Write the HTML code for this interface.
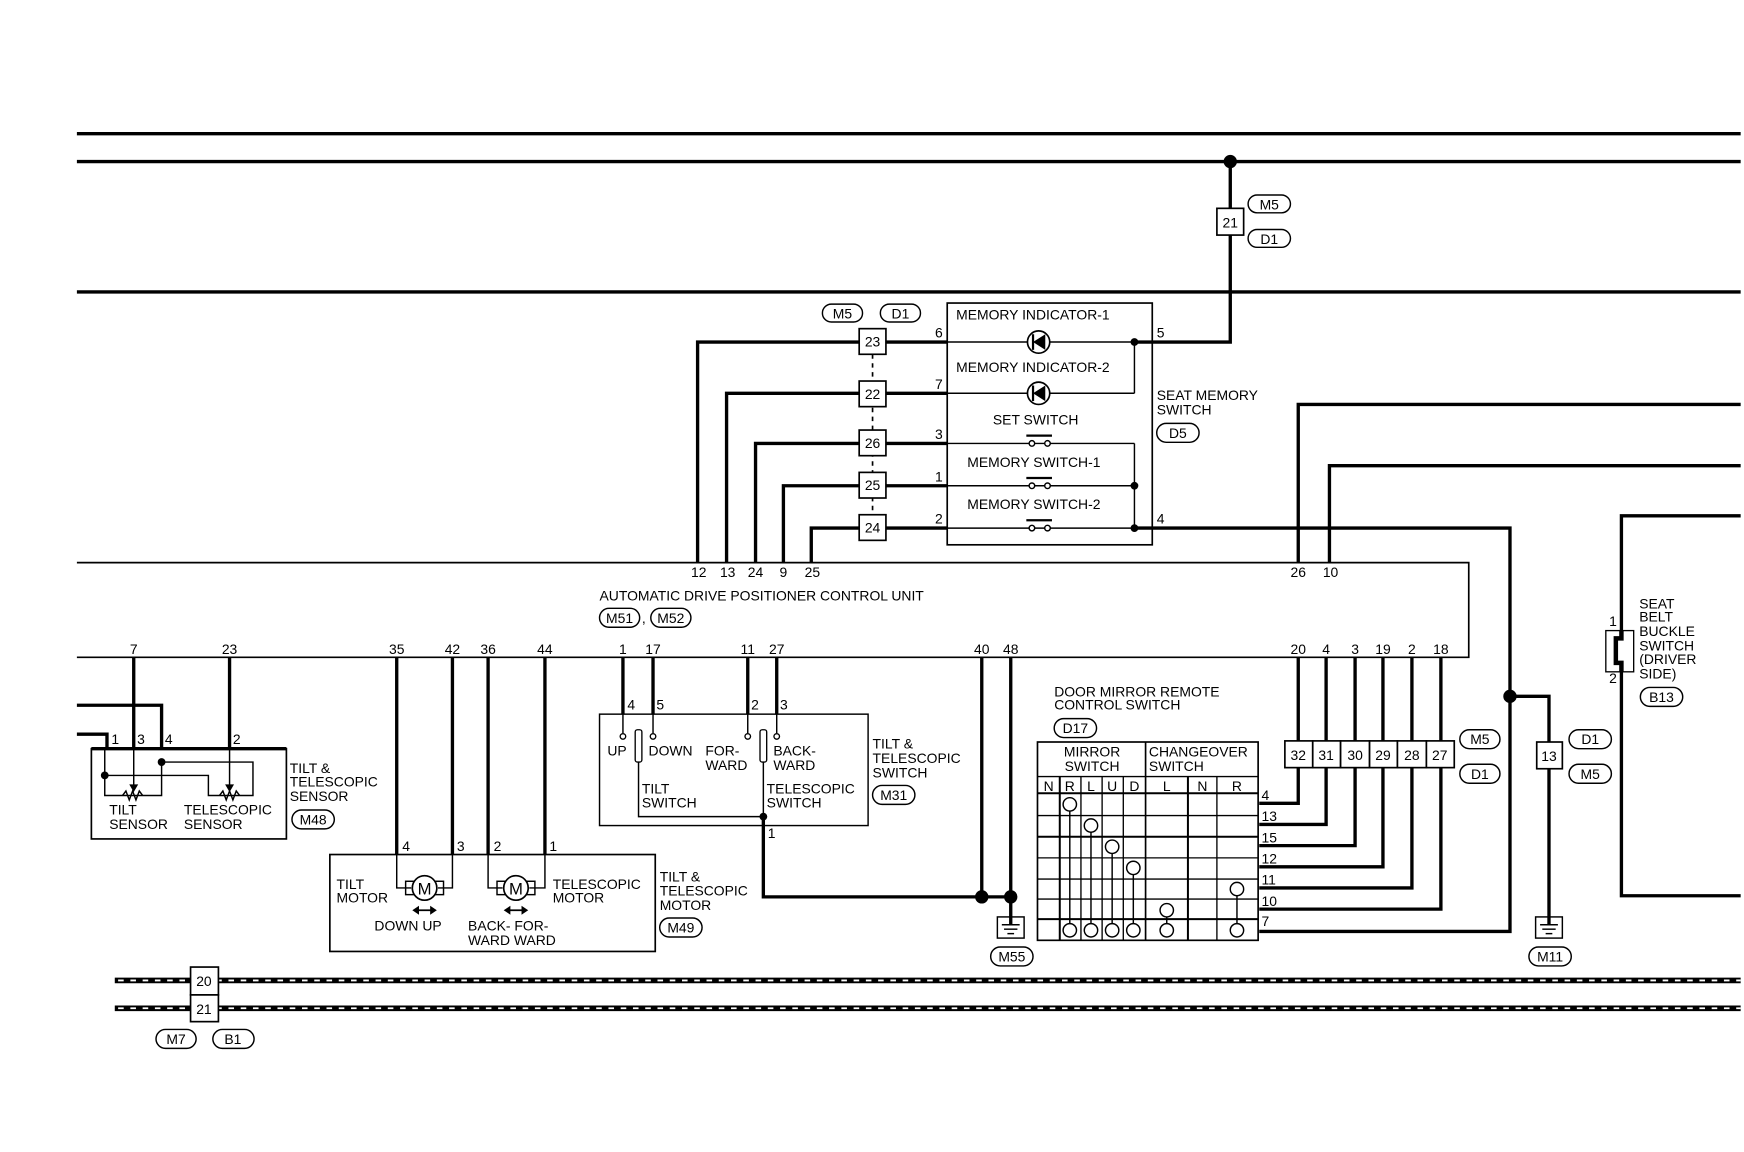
<!DOCTYPE html>
<html><head><meta charset="utf-8"><style>
html,body{margin:0;padding:0;background:#fff;}
svg{display:block;}
text{font-family:"Liberation Sans",sans-serif;font-size:12.5px;fill:#000;}
.t{stroke:#000;stroke-width:3;fill:none;}
.n{stroke:#000;stroke-width:1.3;fill:none;}
.b{stroke:#000;stroke-width:1.5;fill:#fff;}
.o{stroke:#000;stroke-width:1.3;fill:#fff;}
.c{text-anchor:middle;}
</style></head><body>
<svg width="1744" height="1152" viewBox="0 0 1565 1034" preserveAspectRatio="none" xmlns="http://www.w3.org/2000/svg">
<rect width="1565" height="1034" fill="#fff"/>
<!-- top lines -->
<line class="t" x1="69" y1="120" x2="1562" y2="120" stroke-width="2.5"/>
<line class="t" x1="69" y1="145" x2="1562" y2="145" stroke-width="2.5"/>
<line class="t" x1="69" y1="262" x2="1562" y2="262" stroke-width="2.5"/>
<circle cx="1104" cy="145" r="6" fill="#000"/>
<polyline class="t" points="1104,145 1104,307 1018,307" stroke-width="2.5"/>
<rect class="b" x="1092" y="187" width="24" height="24"/><text class="c" x="1104" y="204">21</text>
<rect class="o" x="1120" y="175" width="38" height="16" rx="8"/><text class="c" x="1139" y="188">M5</text>
<rect class="o" x="1120" y="206" width="38" height="16" rx="8"/><text class="c" x="1139" y="219">D1</text>

<!-- seat memory switch -->
<rect class="o" x="738" y="273" width="36" height="16" rx="8"/><text class="c" x="756" y="286">M5</text>
<rect class="o" x="790" y="273" width="36" height="16" rx="8"/><text class="c" x="808" y="286">D1</text>
<line x1="783" y1="318" x2="783" y2="462" stroke="#000" stroke-width="1.5" stroke-dasharray="4,4"/>
<polyline class="t" points="626,505 626,307 850,307"/>
<polyline class="t" points="652,505 652,353 850,353"/>
<polyline class="t" points="678,505 678,398 850,398"/>
<polyline class="t" points="703,505 703,436 850,436"/>
<polyline class="t" points="728,505 728,474 850,474"/>
<rect class="b" x="771" y="295" width="24" height="23"/><text class="c" x="783" y="311">23</text>
<rect class="b" x="771" y="342" width="24" height="23"/><text class="c" x="783" y="358">22</text>
<rect class="b" x="771" y="386" width="24" height="23"/><text class="c" x="783" y="402">26</text>
<rect class="b" x="771" y="424" width="24" height="23"/><text class="c" x="783" y="440">25</text>
<rect class="b" x="771" y="462" width="24" height="23"/><text class="c" x="783" y="478">24</text>
<text x="839" y="303">6</text><text x="839" y="349">7</text><text x="839" y="394">3</text><text x="839" y="432">1</text><text x="839" y="470">2</text>
<rect x="850" y="272" width="184" height="217" fill="none" stroke="#000" stroke-width="1.5"/>
<text x="858" y="287">MEMORY INDICATOR-1</text>
<text x="858" y="334">MEMORY INDICATOR-2</text>
<text x="891" y="381">SET SWITCH</text>
<text x="868" y="419">MEMORY SWITCH-1</text>
<text x="868" y="457">MEMORY SWITCH-2</text>
<line class="n" x1="850" y1="307" x2="1018" y2="307"/>
<line class="n" x1="850" y1="353" x2="1018" y2="353"/>
<line class="n" x1="1018" y1="307" x2="1018" y2="353"/>
<line class="n" x1="850" y1="398" x2="1018" y2="398"/>
<line class="n" x1="850" y1="436" x2="1018" y2="436"/>
<line class="n" x1="850" y1="474" x2="1018" y2="474"/>
<line class="n" x1="1018" y1="398" x2="1018" y2="474"/>
<g>
<circle cx="932" cy="307" r="10" fill="#fff" stroke="#000" stroke-width="1.5"/><polygon points="938,300 938,314 927,307" fill="#000"/><line x1="927" y1="300" x2="927" y2="314" stroke="#000" stroke-width="2"/>
<circle cx="932" cy="353" r="10" fill="#fff" stroke="#000" stroke-width="1.5"/><polygon points="938,346 938,360 927,353" fill="#000"/><line x1="927" y1="346" x2="927" y2="360" stroke="#000" stroke-width="2"/>
</g>
<g fill="#fff" stroke="#000" stroke-width="1.3">
<circle cx="926" cy="398" r="2.5"/><circle cx="940" cy="398" r="2.5"/><line x1="921" y1="391" x2="944" y2="391" stroke-width="2"/>
<circle cx="926" cy="436" r="2.5"/><circle cx="940" cy="436" r="2.5"/><line x1="921" y1="429" x2="944" y2="429" stroke-width="2"/>
<circle cx="926" cy="474" r="2.5"/><circle cx="940" cy="474" r="2.5"/><line x1="921" y1="467" x2="944" y2="467" stroke-width="2"/>
</g>
<circle cx="1018" cy="307" r="3.5" fill="#000"/><circle cx="1018" cy="436" r="3.5" fill="#000"/><circle cx="1018" cy="474" r="3.5" fill="#000"/>
<text x="1038" y="303">5</text><text x="1038" y="470">4</text>
<text x="1038" y="359">SEAT MEMORY</text><text x="1038" y="372">SWITCH</text>
<rect class="o" x="1038" y="380" width="38" height="17" rx="8.5"/><text class="c" x="1057" y="393">D5</text>
<polyline class="t" points="1018,474 1355,474 1355,836 1130,836"/>
<polyline class="t" points="1165,505 1165,363 1562,363"/>
<polyline class="t" points="1193,505 1193,418 1562,418"/>

<!-- control unit -->
<polyline fill="none" stroke="#000" stroke-width="1.5" points="69,505 1318,505 1318,590 69,590"/>
<g class="c">
<text x="627" y="518">12</text><text x="653" y="518">13</text><text x="678" y="518">24</text><text x="703" y="518">9</text><text x="729" y="518">25</text>
<text x="1165" y="518">26</text><text x="1194" y="518">10</text>
<text x="120" y="587">7</text><text x="206" y="587">23</text><text x="356" y="587">35</text><text x="406" y="587">42</text><text x="438" y="587">36</text><text x="489" y="587">44</text>
<text x="559" y="587">1</text><text x="586" y="587">17</text><text x="671" y="587">11</text><text x="697" y="587">27</text>
<text x="881" y="587">40</text><text x="907" y="587">48</text>
<text x="1165" y="587">20</text><text x="1190" y="587">4</text><text x="1216" y="587">3</text><text x="1241" y="587">19</text><text x="1267" y="587">2</text><text x="1293" y="587">18</text>
</g>
<text x="538" y="539">AUTOMATIC DRIVE POSITIONER CONTROL UNIT</text>
<rect class="o" x="538" y="546" width="36" height="17" rx="8.5"/><text class="c" x="556" y="559">M51</text>
<text x="576" y="559">,</text>
<rect class="o" x="584" y="546" width="36" height="17" rx="8.5"/><text class="c" x="602" y="559">M52</text>

<!-- tilt sensor -->
<polyline class="t" points="69,633 145,633 145,672"/>
<polyline class="t" points="69,659 96,659 96,672"/>
<line class="t" x1="120" y1="590" x2="120" y2="672"/>
<line class="t" x1="206" y1="590" x2="206" y2="672"/>
<rect x="82" y="672" width="175" height="81" fill="none" stroke="#000" stroke-width="1.5"/>
<line x1="82" y1="672" x2="257" y2="672" stroke="#000" stroke-width="3"/>
<text x="100" y="668">1</text><text x="123" y="668">3</text><text x="148" y="668">4</text><text x="209" y="668">2</text>
<polyline class="n" points="94,672 94,714 145,714 145,684"/>
<polyline class="n" points="94,696 187,696 187,714 227,714 227,684 145,684"/>
<circle cx="94" cy="696" r="3.5" fill="#000"/><circle cx="145" cy="684" r="3.5" fill="#000"/>
<polyline class="n" points="110,714 113,710 116,718 119,710 122,718 125,710 128,714"/>
<polyline class="n" points="197,714 200,710 203,718 206,710 209,718 212,710 215,714"/>
<line class="n" x1="120" y1="672" x2="120" y2="706"/><polygon points="116,704 124,704 120,711" fill="#000"/>
<line class="n" x1="206" y1="672" x2="206" y2="706"/><polygon points="202,704 210,704 206,711" fill="#000"/>
<text x="98" y="731">TILT</text><text x="98" y="744">SENSOR</text>
<text x="165" y="731">TELESCOPIC</text><text x="165" y="744">SENSOR</text>
<text x="260" y="694">TILT &amp;</text><text x="260" y="706">TELESCOPIC</text><text x="260" y="719">SENSOR</text>
<rect class="o" x="262" y="727" width="38" height="17" rx="8.5"/><text class="c" x="281" y="740">M48</text>

<!-- motors -->
<line class="t" x1="356" y1="590" x2="356" y2="767"/>
<line class="t" x1="406" y1="590" x2="406" y2="767"/>
<line class="t" x1="438" y1="590" x2="438" y2="767"/>
<line class="t" x1="489" y1="590" x2="489" y2="767"/>
<rect x="296" y="767" width="292" height="87" fill="none" stroke="#000" stroke-width="1.5"/>
<text x="361" y="764">4</text><text x="410" y="764">3</text><text x="443" y="764">2</text><text x="493" y="764">1</text>
<polyline class="n" points="356,767 356,797 369,797"/><polyline class="n" points="406,767 406,797 393,797"/>
<polyline class="n" points="438,767 438,797 451,797"/><polyline class="n" points="489,767 489,797 475,797"/>
<rect x="364" y="791" width="34" height="12" fill="none" stroke="#000" stroke-width="1.3"/>
<rect x="446" y="791" width="34" height="12" fill="none" stroke="#000" stroke-width="1.3"/>
<circle cx="381" cy="797" r="11" fill="#fff" stroke="#000" stroke-width="1.5"/><text class="c" x="381" y="803" style="font-size:15px">M</text>
<circle cx="463" cy="797" r="11" fill="#fff" stroke="#000" stroke-width="1.5"/><text class="c" x="463" y="803" style="font-size:15px">M</text>
<g stroke="#000" stroke-width="1.5"><line x1="373" y1="817" x2="389" y2="817"/><line x1="455" y1="817" x2="471" y2="817"/></g>
<g fill="#000"><polygon points="370,817 376,813 376,821"/><polygon points="392,817 386,813 386,821"/><polygon points="452,817 458,813 458,821"/><polygon points="474,817 468,813 468,821"/></g>
<text x="302" y="798">TILT</text><text x="302" y="810">MOTOR</text>
<text x="496" y="798">TELESCOPIC</text><text x="496" y="810">MOTOR</text>
<text x="336" y="835">DOWN  UP</text>
<text x="420" y="835">BACK-  FOR-</text><text x="420" y="848">WARD  WARD</text>
<text x="592" y="791">TILT &amp;</text><text x="592" y="804">TELESCOPIC</text><text x="592" y="817">MOTOR</text>
<rect class="o" x="592" y="824" width="38" height="17" rx="8.5"/><text class="c" x="611" y="837">M49</text>

<!-- tilt switch -->
<line class="t" x1="559" y1="590" x2="559" y2="641"/>
<line class="t" x1="586" y1="590" x2="586" y2="641"/>
<line class="t" x1="671" y1="590" x2="671" y2="641"/>
<line class="t" x1="697" y1="590" x2="697" y2="641"/>
<rect x="538" y="641" width="241" height="100" fill="none" stroke="#000" stroke-width="1.3"/>
<text x="563" y="637">4</text><text x="589" y="637">5</text><text x="674" y="637">2</text><text x="700" y="637">3</text>
<g class="n"><line x1="559" y1="641" x2="559" y2="658"/><line x1="586" y1="641" x2="586" y2="658"/><line x1="671" y1="641" x2="671" y2="658"/><line x1="697" y1="641" x2="697" y2="658"/></g>
<g fill="#fff" stroke="#000" stroke-width="1.2"><circle cx="559" cy="661" r="2.5"/><circle cx="586" cy="661" r="2.5"/><circle cx="671" cy="661" r="2.5"/><circle cx="697" cy="661" r="2.5"/>
<rect x="570" y="655" width="6" height="29" rx="2"/><rect x="682" y="655" width="6" height="29" rx="2"/></g>
<polyline class="n" points="573,684 573,733 685,733"/><line class="n" x1="685" y1="684" x2="685" y2="733"/>
<circle cx="685" cy="733" r="3.5" fill="#000"/>
<text x="545" y="678">UP</text><text x="582" y="678">DOWN</text><text x="633" y="678">FOR-</text><text x="633" y="691">WARD</text>
<text x="694" y="678">BACK-</text><text x="694" y="691">WARD</text>
<text x="576" y="712">TILT</text><text x="576" y="725">SWITCH</text>
<text x="688" y="712">TELESCOPIC</text><text x="688" y="725">SWITCH</text>
<text x="689" y="752">1</text>
<text x="783" y="672">TILT &amp;</text><text x="783" y="685">TELESCOPIC</text><text x="783" y="698">SWITCH</text>
<rect class="o" x="783" y="705" width="38" height="17" rx="8.5"/><text class="c" x="802" y="718">M31</text>
<polyline class="t" points="685,733 685,805 907,805"/>
<line class="t" x1="881" y1="590" x2="881" y2="805"/>
<line class="t" x1="907" y1="590" x2="907" y2="823"/>
<circle cx="881" cy="805" r="6" fill="#000"/><circle cx="907" cy="805" r="6" fill="#000"/>
<rect x="895" y="823" width="24" height="19" fill="#fff" stroke="#000" stroke-width="1.3"/>
<g stroke="#000" stroke-width="1.3"><line x1="899" y1="830" x2="915" y2="830"/><line x1="901" y1="834" x2="913" y2="834"/><line x1="904" y1="838" x2="910" y2="838"/><line x1="907" y1="823" x2="907" y2="830" stroke-width="3"/></g>
<rect class="o" x="889" y="850" width="38" height="17" rx="8.5"/><text class="c" x="908" y="863">M55</text>

<!-- door mirror -->
<text x="946" y="625">DOOR MIRROR REMOTE</text><text x="946" y="637">CONTROL SWITCH</text>
<rect class="o" x="946" y="645" width="38" height="17" rx="8.5"/><text class="c" x="965" y="658">D17</text>
<rect x="931" y="666" width="198" height="178" fill="none" stroke="#000" stroke-width="1.5"/>
<g stroke="#000" stroke-width="1.2">
<line x1="931" y1="697" x2="1129" y2="697"/><line x1="931" y1="712" x2="1129" y2="712" stroke-width="1.8"/>
<line x1="931" y1="732" x2="1129" y2="732"/><line x1="931" y1="751" x2="1129" y2="751" stroke-width="1.8"/>
<line x1="931" y1="770" x2="1129" y2="770"/><line x1="931" y1="789" x2="1129" y2="789"/>
<line x1="931" y1="807" x2="1129" y2="807"/><line x1="931" y1="825" x2="1129" y2="825" stroke-width="1.8"/>
<line x1="1028" y1="666" x2="1028" y2="844" stroke-width="1.5"/>
<line x1="951" y1="697" x2="951" y2="844" stroke-width="1.8"/><line x1="970" y1="697" x2="970" y2="844"/>
<line x1="989" y1="697" x2="989" y2="844"/><line x1="1008" y1="697" x2="1008" y2="844"/>
<line x1="1066" y1="697" x2="1066" y2="844" stroke-width="1.8"/><line x1="1092" y1="697" x2="1092" y2="844"/>
</g>
<text class="c" x="980" y="679">MIRROR</text><text class="c" x="980" y="692">SWITCH</text>
<text x="1031" y="679">CHANGEOVER</text><text x="1031" y="692">SWITCH</text>
<g class="c"><text x="941" y="710">N</text><text x="960" y="710">R</text><text x="979" y="710">L</text><text x="998" y="710">U</text><text x="1018" y="710">D</text><text x="1047" y="710">L</text><text x="1079" y="710">N</text><text x="1110" y="710">R</text></g>
<g stroke="#000" stroke-width="1.3">
<line x1="960" y1="722" x2="960" y2="835"/><line x1="979" y1="741" x2="979" y2="835"/><line x1="998" y1="760" x2="998" y2="835"/><line x1="1017" y1="779" x2="1017" y2="835"/><line x1="1047" y1="817" x2="1047" y2="835"/><line x1="1110" y1="798" x2="1110" y2="835"/>
</g>
<g fill="#fff" stroke="#000" stroke-width="1.3">
<circle cx="960" cy="722" r="6"/><circle cx="979" cy="741" r="6"/><circle cx="998" cy="760" r="6"/><circle cx="1017" cy="779" r="6"/><circle cx="1110" cy="798" r="6"/><circle cx="1047" cy="817" r="6"/>
<circle cx="960" cy="835" r="6"/><circle cx="979" cy="835" r="6"/><circle cx="998" cy="835" r="6"/><circle cx="1017" cy="835" r="6"/><circle cx="1047" cy="835" r="6"/><circle cx="1110" cy="835" r="6"/>
</g>
<text x="1132" y="718">4</text><text x="1132" y="737">13</text><text x="1132" y="756">15</text><text x="1132" y="775">12</text><text x="1132" y="794">11</text><text x="1132" y="813">10</text><text x="1132" y="831">7</text>
<polyline class="t" points="1130,721 1165,721 1165,590"/>
<polyline class="t" points="1130,740 1190,740 1190,590"/>
<polyline class="t" points="1130,759 1216,759 1216,590"/>
<polyline class="t" points="1130,778 1241,778 1241,590"/>
<polyline class="t" points="1130,797 1267,797 1267,590"/>
<polyline class="t" points="1130,816 1293,816 1293,590"/>
<g>
<rect class="b" x="1153" y="665" width="25" height="24"/><text class="c" x="1165" y="682">32</text>
<rect class="b" x="1178" y="665" width="25" height="24"/><text class="c" x="1190" y="682">31</text>
<rect class="b" x="1203" y="665" width="26" height="24"/><text class="c" x="1216" y="682">30</text>
<rect class="b" x="1229" y="665" width="25" height="24"/><text class="c" x="1241" y="682">29</text>
<rect class="b" x="1254" y="665" width="26" height="24"/><text class="c" x="1267" y="682">28</text>
<rect class="b" x="1280" y="665" width="25" height="24"/><text class="c" x="1292" y="682">27</text>
</g>
<rect class="o" x="1310" y="655" width="36" height="17" rx="8.5"/><text class="c" x="1328" y="668">M5</text>
<rect class="o" x="1310" y="686" width="36" height="17" rx="8.5"/><text class="c" x="1328" y="699">D1</text>

<!-- M11 -->
<circle cx="1355" cy="625" r="6" fill="#000"/>
<polyline class="t" points="1355,625 1390,625 1390,823"/>
<rect class="b" x="1379" y="666" width="23" height="24"/><text class="c" x="1390" y="683">13</text>
<rect class="o" x="1408" y="655" width="38" height="17" rx="8.5"/><text class="c" x="1427" y="668">D1</text>
<rect class="o" x="1408" y="686" width="38" height="17" rx="8.5"/><text class="c" x="1427" y="699">M5</text>
<rect x="1378" y="823" width="24" height="19" fill="#fff" stroke="#000" stroke-width="1.3"/>
<g stroke="#000" stroke-width="1.3"><line x1="1382" y1="830" x2="1398" y2="830"/><line x1="1384" y1="834" x2="1396" y2="834"/><line x1="1387" y1="838" x2="1393" y2="838"/><line x1="1390" y1="823" x2="1390" y2="830" stroke-width="3"/></g>
<rect class="o" x="1372" y="850" width="38" height="17" rx="8.5"/><text class="c" x="1391" y="863">M11</text>

<!-- seat belt -->
<polyline class="t" points="1562,463 1455,463 1455,804 1562,804"/>
<rect x="1441" y="566" width="25" height="37" fill="#fff" stroke="#000" stroke-width="1.2"/>
<polyline points="1455,566 1455,573 1450,573 1450,595 1455,595 1455,603" fill="none" stroke="#000" stroke-width="4"/>
<text x="1444" y="562">1</text><text x="1444" y="613">2</text>
<text x="1471" y="546">SEAT</text><text x="1471" y="558">BELT</text><text x="1471" y="571">BUCKLE</text><text x="1471" y="584">SWITCH</text><text x="1471" y="596">(DRIVER</text><text x="1471" y="609"> SIDE)</text>
<rect class="o" x="1472" y="617" width="38" height="17" rx="8.5"/><text class="c" x="1491" y="630">B13</text>

<!-- bottom lines -->
<line x1="103" y1="880" x2="1562" y2="880" stroke="#000" stroke-width="5"/>
<line x1="103" y1="905" x2="1562" y2="905" stroke="#000" stroke-width="5"/>
<line x1="106" y1="880" x2="1562" y2="880" stroke="#fff" stroke-width="1.6" stroke-dasharray="5,6"/>
<line x1="106" y1="905" x2="1562" y2="905" stroke="#fff" stroke-width="1.6" stroke-dasharray="5,6"/>
<rect class="b" x="171" y="868" width="25" height="25"/><text class="c" x="183" y="885">20</text>
<rect class="b" x="171" y="893" width="25" height="24"/><text class="c" x="183" y="910">21</text>
<rect class="o" x="140" y="924" width="36" height="17" rx="8.5"/><text class="c" x="158" y="937">M7</text>
<rect class="o" x="191" y="924" width="37" height="17" rx="8.5"/><text class="c" x="209" y="937">B1</text>
</svg>
</body></html>
